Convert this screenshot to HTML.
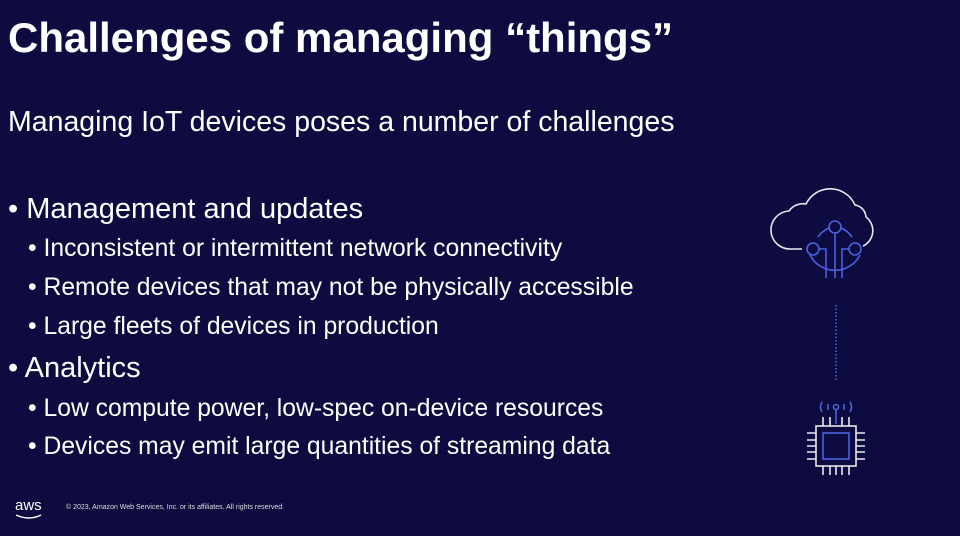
<!DOCTYPE html><html><head><style>
body{margin:0;width:960px;height:536px;background:#0d0b3f;overflow:hidden;position:relative;font-family:"Liberation Sans",sans-serif;color:#fff}
.t{position:absolute;white-space:nowrap}
.l1{left:8px;font-size:29px}
.l2{left:28px;font-size:24.7px}
</style></head><body>
<div class="t" style="left:8px;top:14px;font-size:42px;font-weight:bold">Challenges of managing “things”</div>
<div class="t" style="left:8px;top:106px;font-size:28.5px">Managing IoT devices poses a number of challenges</div>
<div class="t l1" style="top:193px">• Management and updates</div>
<div class="t l2" style="top:235px">• Inconsistent or intermittent network connectivity</div>
<div class="t l2" style="top:274px">• Remote devices that may not be physically accessible</div>
<div class="t l2" style="top:313px">• Large fleets of devices in production</div>
<div class="t l1" style="top:352px">• Analytics</div>
<div class="t l2" style="top:395px">• Low compute power, low-spec on-device resources</div>
<div class="t l2" style="top:433px">• Devices may emit large quantities of streaming data</div>
<div class="t" style="left:15px;top:497px;font-size:15px">aws</div>
<svg style="position:absolute;left:14px;top:513px" width="30" height="8"><path d="M2 2 Q15 8 27 2" stroke="#fff" stroke-width="1.5" fill="none"/></svg>
<div class="t" style="left:66px;top:504px;font-size:7px;color:#ddd">© 2023, Amazon Web Services, Inc. or its affiliates. All rights reserved.</div>
<svg style="position:absolute;left:760px;top:180px" width="140" height="300">
<path d="M42 69 H31 A19 19 0 0 1 29 31 A17 17 0 0 1 46 24 A27 27 0 0 1 95 25 A13 13 0 0 1 106 37 A17 17 0 0 1 103 66" stroke="#e8e8f0" stroke-width="1.6" fill="none"/>
<g stroke="#4a62e0" stroke-width="1.6" fill="none">
<circle cx="75" cy="47" r="6"/><circle cx="53" cy="69" r="6"/><circle cx="95" cy="69" r="6"/>
<path d="M58 57 A25 25 0 0 1 69 48 M81 48 A25 25 0 0 1 92 57 M50 75 A28 28 0 0 0 100 75"/>
<path d="M75 53 V98 M59 69 H66 V98 M89 69 H82 V98"/>
<path d="M76 125 V200" stroke-dasharray="1.5 2"/>
<path d="M76 230 V244 M62 222 Q59 227 62 232 M90 222 Q93 227 90 232 M68 224 V230 M84 224 V230"/><circle cx="76" cy="227" r="2.5"/>
<rect x="63" y="253" width="26" height="26"/>
</g>
<g stroke="#e8e8f0" stroke-width="1.6" fill="none">
<rect x="56" y="246" width="40" height="40"/>
<path d="M63 237v9M70 237v9M82 237v9M89 237v9M63 286v9M70 286v9M76 286v9M82 286v9M89 286v9M47 253h9M47 260h9M47 266h9M47 272h9M47 279h9M96 253h9M96 260h9M96 266h9M96 272h9M96 279h9"/>
</g>
</svg>
</body></html>
